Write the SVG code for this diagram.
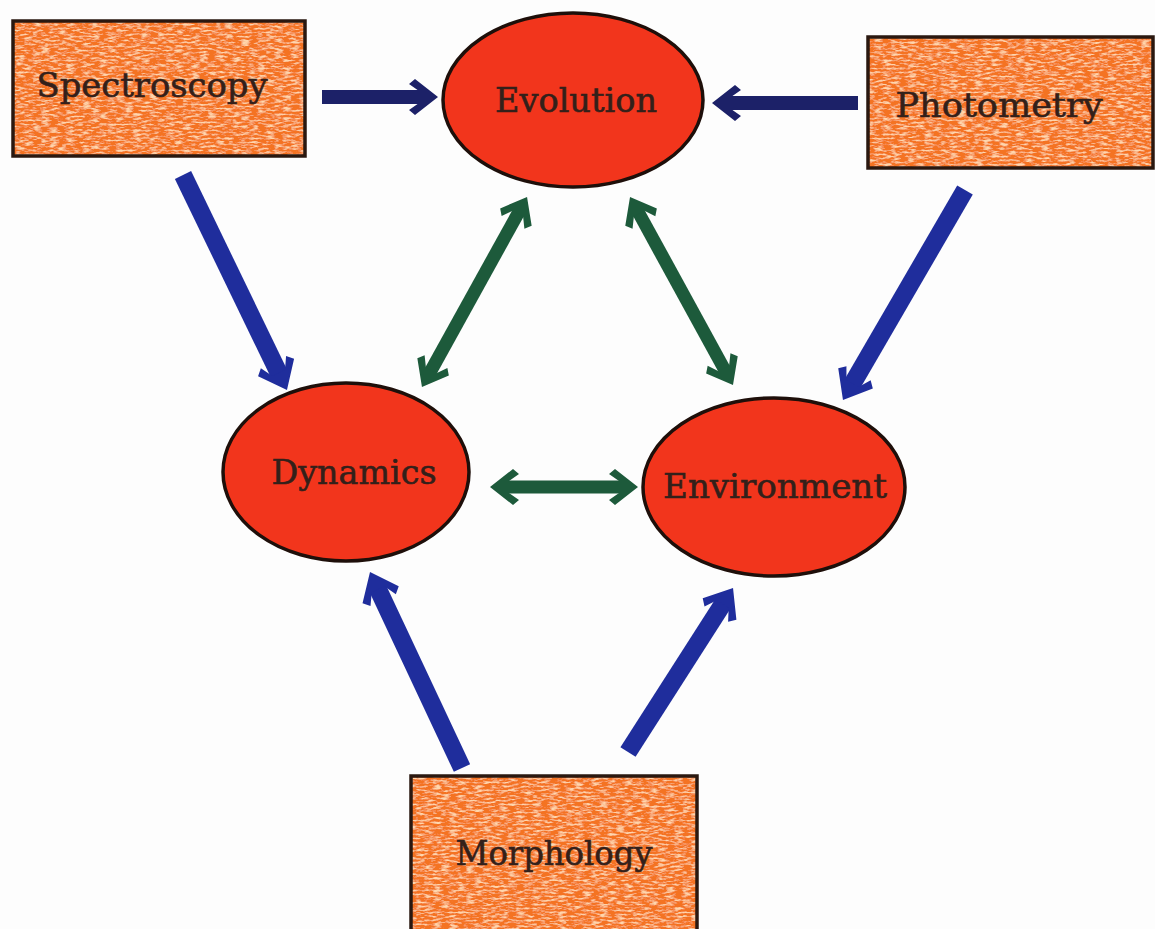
<svg xmlns="http://www.w3.org/2000/svg" width="1155" height="929" viewBox="0 0 1155 929">
<style>
.box{fill:#f47324}
.frame{fill:none;stroke:#2a1810;stroke-width:3.5}
.oval{fill:#f2351c;stroke:#1e0f0a;stroke-width:3.5}
.lbl{font-family:"DejaVu Serif","Liberation Serif",serif;font-size:34px;fill:#33201a;stroke:#33201a;stroke-width:0.6;text-anchor:middle}
.navy{stroke:#1c2168;stroke-width:14;fill:none;marker-end:url(#hNavy)}
.blue{stroke:#1f2d9c;stroke-width:18;fill:none;marker-end:url(#hBlue)}
.green{stroke:#1d5a3b;stroke-width:13;fill:none;marker-start:url(#hGreen);marker-end:url(#hGreen)}
</style>
<defs>
<filter id="tex" x="0" y="0" width="1" height="1">
<feTurbulence type="fractalNoise" baseFrequency="0.12 0.5" numOctaves="3" seed="7" result="n"/>
<feColorMatrix in="n" type="matrix" values="0 0 0 0 1  0 0 0 0 0.68  0 0 0 0 0.42  0 0 0 -3.2 1.75" result="spk"/>
<feComposite in="spk" in2="SourceGraphic" operator="atop"/>
</filter>
<marker id="hNavy" markerUnits="userSpaceOnUse" orient="auto-start-reverse" viewBox="-32 -20 34 40" refX="-16" refY="0" markerWidth="34" markerHeight="40" overflow="visible">
<path d="M0,0 L-23,-18 L-29,-13 L-19,-6 L-19,6 L-29,13 L-23,18 Z" fill="#1c2168"/>
</marker>
<marker id="hBlue" markerUnits="userSpaceOnUse" orient="auto-start-reverse" viewBox="-34 -22 36 44" refX="-16" refY="0" markerWidth="36" markerHeight="44" overflow="visible">
<path d="M0,0 L-25,-20 L-31,-14 L-19,-7 L-19,7 L-31,14 L-25,20 Z" fill="#1f2d9c"/>
</marker>
<marker id="hGreen" markerUnits="userSpaceOnUse" orient="auto-start-reverse" viewBox="-32 -20 34 40" refX="-16" refY="0" markerWidth="34" markerHeight="40" overflow="visible">
<path d="M0,0 L-23,-18 L-29,-13 L-19,-6 L-19,6 L-29,13 L-23,18 Z" fill="#1d5a3b"/>
</marker>
</defs>
<rect width="1155" height="929" fill="#fdfdfd"/>
<g id="connectors">
<line class="navy" x1="322" y1="97" x2="422" y2="97"/>
<line class="navy" x1="858" y1="103" x2="728" y2="103"/>
<line class="blue" x1="183" y1="175" x2="280" y2="375.6"/>
<line class="blue" x1="965" y1="190" x2="851" y2="386.2"/>
<line class="blue" x1="462" y1="768" x2="376.8" y2="586.5"/>
<line class="blue" x1="628" y1="752" x2="724.4" y2="601.5"/>
<line class="green" x1="429.7" y1="373" x2="519.3" y2="211"/>
<line class="green" x1="637.7" y1="211" x2="725.3" y2="371"/>
<line class="green" x1="506" y1="487" x2="622" y2="487"/>
</g>
<g id="spectroscopy">
<rect class="box" x="13" y="21" width="292" height="135" filter="url(#tex)"/>
<rect class="frame" x="13" y="21" width="292" height="135"/>
<text class="lbl" x="152" y="97" textLength="231" lengthAdjust="spacingAndGlyphs">Spectroscopy</text>
</g>
<g id="photometry">
<rect class="box" x="868" y="37" width="285" height="131" filter="url(#tex)"/>
<rect class="frame" x="868" y="37" width="285" height="131"/>
<text class="lbl" x="999" y="117" textLength="207" lengthAdjust="spacingAndGlyphs">Photometry</text>
</g>
<g id="morphology">
<rect class="box" x="411" y="776" width="286" height="156" filter="url(#tex)"/>
<rect class="frame" x="411" y="776" width="286" height="156"/>
<text class="lbl" x="554" y="865" textLength="197" lengthAdjust="spacingAndGlyphs">Morphology</text>
</g>
<g id="evolution">
<ellipse class="oval" cx="573" cy="100" rx="130" ry="87"/>
<text class="lbl" x="576" y="112" textLength="162" lengthAdjust="spacingAndGlyphs">Evolution</text>
</g>
<g id="dynamics">
<ellipse class="oval" cx="346" cy="472" rx="123" ry="89"/>
<text class="lbl" x="354" y="484" textLength="165" lengthAdjust="spacingAndGlyphs">Dynamics</text>
</g>
<g id="environment">
<ellipse class="oval" cx="774" cy="487" rx="131" ry="89"/>
<text class="lbl" x="775" y="498" textLength="224" lengthAdjust="spacingAndGlyphs">Environment</text>
</g>
</svg>
